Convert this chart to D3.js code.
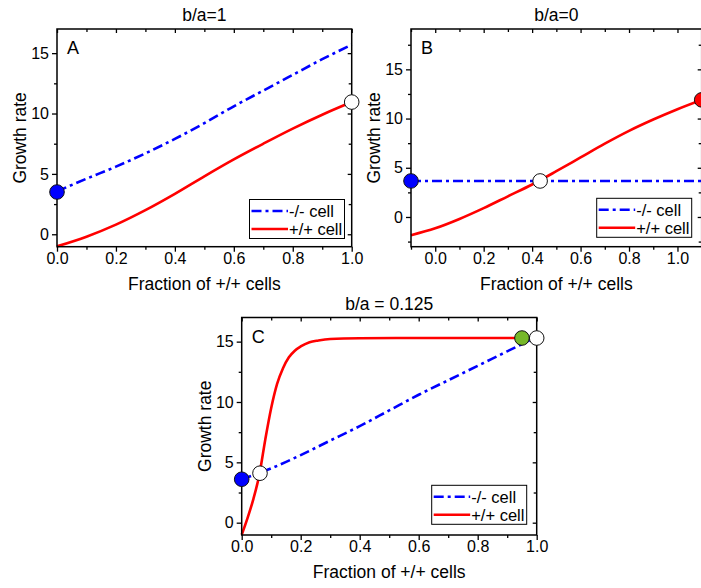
<!DOCTYPE html>
<html><head><meta charset="utf-8">
<script src="https://cdn.jsdelivr.net/npm/d3@7"></script>
<style>
body{margin:0;background:#fff}
svg{display:block}
text{font-family:"Liberation Sans",Arial,sans-serif;fill:#000}
</style>
</head><body>
<svg id="chart" width="701" height="588"></svg>
<script>
// ---------------- data ----------------
const titles = ["b/a=1", "b/a=0", "b/a = 0.125"];
const letters = ["A", "B", "C"];
const seriesNames = ["-/- cell", "+/+ cell"];
const xLabel = "Fraction of +/+ cells";
const yLabel = "Growth rate";

// Panel A
const xA = [0, 0.1, 0.2, 0.3, 0.4, 0.5, 0.6, 0.7, 0.8, 0.9, 1.0];
const minusA = [3.55, 4.6, 5.6, 6.7, 7.9, 9.2, 10.6, 11.9, 13.2, 14.5, 15.7];
const plusA = [-1.0, -0.2, 0.8, 2.0, 3.35, 4.8, 6.2, 7.5, 8.75, 9.9, 10.95];
const pointsA = [{x: 0, y: 3.5, kind: "minus"}, {x: 1.0, y: 10.95, kind: "open"}];

// Panel B
const xBminus = [-0.1, 1.1];
const minusB = [3.66, 3.66];
const xBplus = [-0.1, 0, 0.1, 0.2, 0.3, 0.4, 0.5, 0.6, 0.7, 0.8, 0.9, 1.0, 1.1];
const plusB = [-1.85, -1.15, -0.2, 0.9, 2.1, 3.3, 4.65, 6.05, 7.45, 8.75, 9.9, 10.95, 11.9];
const pointsB = [{x: -0.1, y: 3.66, kind: "minus"}, {x: 0.433, y: 3.66, kind: "open"}, {x: 1.1, y: 11.9, kind: "plus"}];

// Panel C
const xCminus = [0, 0.1, 0.2, 0.3, 0.4, 0.5, 0.6, 0.7, 0.8, 0.9, 1.0];
const minusC = [3.6, 4.5, 5.6, 6.8, 8.0, 9.3, 10.6, 11.8, 13.0, 14.2, 15.4];
const xCplus = [0, 0.02, 0.04, 0.06, 0.08, 0.10, 0.12, 0.14, 0.16, 0.18, 0.20, 0.23, 0.26, 0.30, 0.40, 0.60, 0.80, 0.95];
const plusC = [-1.0, 0.4, 2.0, 4.0, 6.9, 9.5, 11.5, 12.8, 13.7, 14.25, 14.6, 14.95, 15.1, 15.22, 15.28, 15.3, 15.3, 15.3];
const pointsC = [{x: 0, y: 3.6, kind: "minus"}, {x: 0.062, y: 4.1, kind: "open"}, {x: 0.95, y: 15.3, kind: "mixed"}, {x: 1.0, y: 15.3, kind: "open"}];

// tick values
const xMajorAC = [0, 0.2, 0.4, 0.6, 0.8, 1.0];
const xMinorAC = [0.1, 0.3, 0.5, 0.7, 0.9];
const xMinorB = [-0.1, 0.1, 0.3, 0.5, 0.7, 0.9, 1.1];
const yMajor = [0, 5, 10, 15];
const yMinorAC = [2.5, 7.5, 12.5];
const yMinorB = [-2.5, 2.5, 7.5, 12.5, 17.5];

// ---------------- styles ----------------
const colMinus = "#0000ff", colPlus = "#ff0000";
const markFill = {minus: "#0000ff", plus: "#ff0000", open: "#ffffff", mixed: "#76b82a"};
const dashMinus = "10,4,3,4";

const svg = d3.select("#chart");

function panel(o) {
  const x = d3.scaleLinear().domain(o.xdom).range([o.l, o.r]);
  const y = d3.scaleLinear().domain(o.ydom).range([o.b, o.t]);
  const g = svg.append("g");

  // series
  const line = d3.line().x(d => x(d[0])).y(d => y(d[1])).curve(d3.curveMonotoneX);
  g.append("path").datum(d3.zip(o.xPlus, o.plus)).attr("d", line)
    .attr("fill", "none").attr("stroke", colPlus).attr("stroke-width", 2.6);
  g.append("path").datum(d3.zip(o.xMinus, o.minus)).attr("d", line)
    .attr("fill", "none").attr("stroke", colMinus).attr("stroke-width", 2.6)
    .attr("stroke-dasharray", dashMinus);

  // axes
  const fmtX = d3.format(".1f");
  const ax = (gen, tr) => {
    const a = g.append("g").attr("transform", tr).call(gen);
    a.select(".domain").remove();
    a.selectAll("line").attr("stroke", "#000").attr("stroke-width", 1.3);
    a.selectAll("text").attr("font-size", 16).attr("fill", "#000")
      .style("font-family", "'Liberation Sans',Arial,sans-serif");
    return a;
  };
  ax(d3.axisBottom(x).tickValues(o.xMajor).tickSize(5).tickPadding(0.5).tickFormat(fmtX), `translate(0,${o.b})`);
  ax(d3.axisBottom(x).tickValues(o.xMinor).tickSize(3).tickFormat(""), `translate(0,${o.b})`);
  ax(d3.axisLeft(y).tickValues(yMajor).tickSize(5).tickPadding(3).tickFormat(d3.format("d")), `translate(${o.l},0)`);
  ax(d3.axisLeft(y).tickValues(o.yMinor).tickSize(3).tickFormat(""), `translate(${o.l},0)`);
  ax(d3.axisTop(x).tickValues(o.xMajor).tickSize(-4).tickFormat(""), `translate(0,${o.t})`);
  ax(d3.axisTop(x).tickValues(o.xMinor).tickSize(-3).tickFormat(""), `translate(0,${o.t})`);
  ax(d3.axisRight(y).tickValues(yMajor).tickSize(-4).tickFormat(""), `translate(${o.r},0)`);
  ax(d3.axisRight(y).tickValues(o.yMinor).tickSize(-3).tickFormat(""), `translate(${o.r},0)`);

  g.append("rect").attr("x", o.l).attr("y", o.t).attr("width", o.r - o.l).attr("height", o.b - o.t)
    .attr("fill", "none").attr("stroke", "#000").attr("stroke-width", 1.5);

  // legend
  const lx = o.r - o.legR - 95, ly = o.b - o.legB - 39;
  const lg = g.append("g").attr("transform", `translate(${lx},${ly})`);
  lg.append("rect").attr("width", 95).attr("height", 39).attr("fill", "#fff")
    .attr("stroke", "#000").attr("stroke-width", 1);
  [[colMinus, dashMinus], [colPlus, null]].forEach((s, i) => {
    const yy = 11.5 + i * 18;
    const ln = lg.append("line").attr("x1", 2).attr("x2", 38.5).attr("y1", yy).attr("y2", yy)
      .attr("stroke", s[0]).attr("stroke-width", 2.6);
    if (s[1]) ln.attr("stroke-dasharray", s[1]);
    lg.append("text").attr("x", 39.5).attr("y", yy + 6).attr("font-size", 16.5).text(seriesNames[i]);
  });

  // markers
  g.selectAll("circle.m").data(o.points).join("circle").attr("class", "m")
    .attr("cx", d => x(d.x)).attr("cy", d => y(d.y)).attr("r", 7.3)
    .attr("fill", d => markFill[d.kind]).attr("stroke", "#111").attr("stroke-width", 1);

  // texts
  g.append("text").attr("x", (o.l + o.r) / 2).attr("y", o.t - 8).attr("text-anchor", "middle")
    .attr("font-size", 17.5).text(o.title);
  g.append("text").attr("x", o.l + 10).attr("y", o.t + 25).attr("font-size", 18).text(o.letter);
  g.append("text").attr("x", (o.l + o.r) / 2).attr("y", o.b + 43).attr("text-anchor", "middle")
    .attr("font-size", 17.5).text(xLabel);
  g.append("text").attr("transform", `translate(${o.l - 31},${(o.t + o.b) / 2}) rotate(-90)`)
    .attr("text-anchor", "middle").attr("font-size", 17.5).text(yLabel);
}

panel({l: 57, r: 351.7, t: 29, b: 246.7, xdom: [0, 1], ydom: [-1.03, 17],
  xMajor: xMajorAC, xMinor: xMinorAC, yMinor: yMinorAC,
  xMinus: xA, minus: minusA, xPlus: xA, plus: plusA, points: pointsA,
  title: titles[0], letter: letters[0], legR: 7.2, legB: 8.2});

panel({l: 411, r: 701.7, t: 29, b: 246.7, xdom: [-0.1, 1.1], ydom: [-3.02, 19.1],
  xMajor: xMajorAC, xMinor: xMinorB, yMinor: yMinorB,
  xMinus: xBminus, minus: minusB, xPlus: xBplus, plus: plusB, points: pointsB,
  title: titles[1], letter: letters[1], legR: 10, legB: 9.4});

panel({l: 241.7, r: 536.7, t: 317.5, b: 535, xdom: [0, 1], ydom: [-1.02, 17],
  xMajor: xMajorAC, xMinor: xMinorAC, yMinor: yMinorAC,
  xMinus: xCminus, minus: minusC, xPlus: xCplus, plus: plusC, points: pointsC,
  title: titles[2], letter: letters[2], legR: 10, legB: 10.7});
</script>
</body></html>
